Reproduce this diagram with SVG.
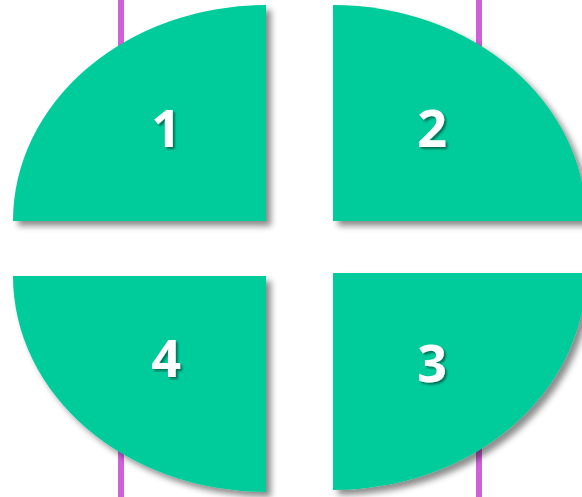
<svg xmlns="http://www.w3.org/2000/svg" width="582" height="497" viewBox="0 0 582 497">
<defs>
<style>
.q{fill:#00CB9A;filter:url(#sh)}
.n{font-family:"Open Sans","Liberation Sans",sans-serif;font-weight:bold;font-size:52px;fill:#FFFFFF;text-anchor:middle;filter:url(#tsh)}
.v{stroke:#D060D8;stroke-width:6}
</style>
<filter id="sh" x="-10%" y="-10%" width="130%" height="130%">
<feGaussianBlur in="SourceAlpha" stdDeviation="3"/>
<feOffset dx="5" dy="5" result="b"/>
<feFlood flood-color="#000" flood-opacity="0.45"/>
<feComposite in2="b" operator="in"/>
<feMerge><feMergeNode/><feMergeNode in="SourceGraphic"/></feMerge>
</filter>
<filter id="tsh" x="-20%" y="-20%" width="150%" height="150%">
<feGaussianBlur in="SourceAlpha" stdDeviation="1.2"/>
<feOffset dx="2" dy="2" result="b"/>
<feFlood flood-color="#000" flood-opacity="0.45"/>
<feComposite in2="b" operator="in"/>
<feMerge><feMergeNode/><feMergeNode in="SourceGraphic"/></feMerge>
</filter>
</defs>
<rect width="582" height="497" fill="#FFFFFF"/>
<g id="connectors">
<line class="v" x1="121" y1="0" x2="121" y2="120"/>
<line class="v" x1="479" y1="0" x2="479" y2="120"/>
<line class="v" x1="121" y1="380" x2="121" y2="497"/>
<line class="v" x1="479" y1="380" x2="479" y2="497"/>
</g>
<g id="node1">
<path class="q" d="M266,221 L13,221 A253,216 0 0 1 266,5 Z"/>
<text class="n" x="166" y="147">1</text>
</g>
<g id="node2">
<path class="q" d="M333,221 L333,5 A253,216 0 0 1 586,221 Z"/>
<text class="n" x="432" y="147">2</text>
</g>
<g id="node3">
<path class="q" d="M333,273 L586,273 A253,217 0 0 1 333,490 Z"/>
<text class="n" x="432" y="382">3</text>
</g>
<g id="node4">
<path class="q" d="M266,276 L266,492 A253,216 0 0 1 13,276 Z"/>
<text class="n" x="166" y="377">4</text>
</g>
</svg>
